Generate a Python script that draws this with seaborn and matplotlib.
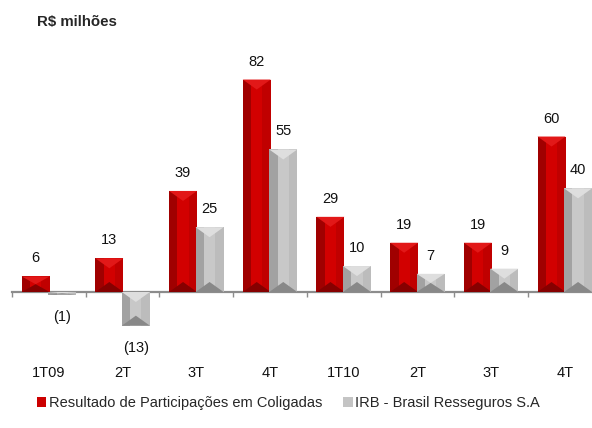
import matplotlib as mpl
mpl.use('Agg')
import matplotlib.pyplot as plt
from matplotlib.patches import Polygon, Patch
import seaborn as sb
import pandas as pd

# data
periods = ['1T09', '2T09', '3T09', '4T09', '1T10', '2T10', '3T10', '4T10']
tick_labels = ['1T09', '2T', '3T', '4T', '1T10', '2T', '3T', '4T']
coligadas = [6, 13, 39, 82, 29, 19, 19, 60]
irb = [-1, -13, 25, 55, 10, 7, 9, 40]
series_names = ['Resultado de Participações em Coligadas', 'IRB - Brasil Resseguros S.A']

RED = '#CC0000'
GREY = '#C4C4C4'
# face shades: mid, left, right, top, bottom
shades = {
    RED: ['#D20000', '#A00000', '#C00000', '#E21818', '#860000'],
    GREY: ['#C8C8C8', '#A2A2A2', '#BCBCBC', '#DEDEDE', '#888888'],
}

df = pd.DataFrame({
    'period': periods * 2,
    'value': coligadas + irb,
    'serie': [series_names[0]] * len(periods) + [series_names[1]] * len(periods),
})

sb.set_style('white')
plt.rcParams['font.family'] = ['Liberation Sans', 'DejaVu Sans']

fig = plt.figure(figsize=(5.92, 4.28), dpi=100)
ax = fig.add_axes([0, 0, 1, 1])

sb.barplot(data=df, x='period', y='value', hue='serie', order=periods,
           palette=[RED, GREY], width=0.72, errorbar=None, legend=False,
           saturation=1, linewidth=0, ax=ax)

# axis line at zero with boundary ticks
for s in ['top', 'right', 'left']:
    ax.spines[s].set_visible(False)
ax.spines['bottom'].set_position(('data', 0))
ax.spines['bottom'].set_bounds(-0.5, len(periods) + 0.5)
ax.spines['bottom'].set_color('#8C8C8C')
ax.spines['bottom'].set_linewidth(1.6)
ax.spines['bottom'].set_zorder(0.5)
ax.set_xticks([i - 0.5 for i in range(len(periods))])
ax.set_xticklabels([])
ax.tick_params(axis='x', direction='out', length=3.5, width=1, color='#8C8C8C', bottom=True)
ax.set_yticks([])
ax.set_xlabel('')
ax.set_ylabel('')

px_per_unit_x = 73.7
x0 = -48.9 / px_per_unit_x
ax.set_xlim(x0, x0 + 592 / px_per_unit_x)
ax.set_ylim(-52.5, 112.7)
px_per_unit_y = 428 / (112.7 + 52.5)

# bevelled look: side bands plus top/bottom chevrons
bars = list(ax.patches)
for k, p in enumerate(bars):
    color = RED if k < len(periods) else GREY
    mid, left, right, top, bottom = shades[color]
    bx = p.get_x() - 0.01
    bw = p.get_width() + 0.02
    p.set_x(bx)
    p.set_width(bw)
    p.set_facecolor(mid)
    ylo = min(p.get_y(), p.get_y() + p.get_height())
    yhi = max(p.get_y(), p.get_y() + p.get_height())
    h = yhi - ylo
    if h <= 0:
        continue
    ix = 0.3 * bw
    dv = min(10 / px_per_unit_y, h / 2)
    xl, xr = bx, bx + bw
    cx = bx + bw / 2
    faces = [
        ([(xl, ylo), (xl + ix, ylo), (xl + ix, yhi), (xl, yhi)], left),
        ([(xr, ylo), (xr - ix, ylo), (xr - ix, yhi), (xr, yhi)], right),
        ([(xl, yhi), (xr, yhi), (cx, yhi - dv)], top),
        ([(xl, ylo), (xr, ylo), (cx, ylo + dv)], bottom),
    ]
    for pts, c in faces:
        ax.add_patch(Polygon(pts, closed=True, facecolor=c, edgecolor='none', zorder=p.get_zorder() + 0.1))

# value labels
vals = coligadas + irb
for p, v in zip(bars, vals):
    cx = p.get_x() + p.get_width() / 2
    if v >= 0:
        ax.text(cx, v + 18 / px_per_unit_y, str(v), ha='center', va='center', fontsize=10.5, color='#111111')
    else:
        ax.text(cx, v - 22 / px_per_unit_y, '(%d)' % abs(v), ha='center', va='center', fontsize=10.5, color='#111111')

# category labels
for i, lab in enumerate(tick_labels):
    ax.text(i, -81 / px_per_unit_y, lab, ha='center', va='center', fontsize=10.5, color='#111111')

fig.text(37 / 592, 1 - 22 / 428, 'R$ milhões', fontsize=10.8, fontweight='bold', va='center', ha='left')

handles = [Patch(facecolor=RED, edgecolor='none'), Patch(facecolor=GREY, edgecolor='none')]
fig.legend(handles, series_names, loc='center left', bbox_to_anchor=(37 / 592, 1 - 403 / 428),
           ncol=2, frameon=False, fontsize=10.5, handlelength=0.62, handleheight=0.62,
           handletextpad=0.2, columnspacing=1.45, borderpad=0, borderaxespad=0)

fig.savefig('out.png', dpi=100)
